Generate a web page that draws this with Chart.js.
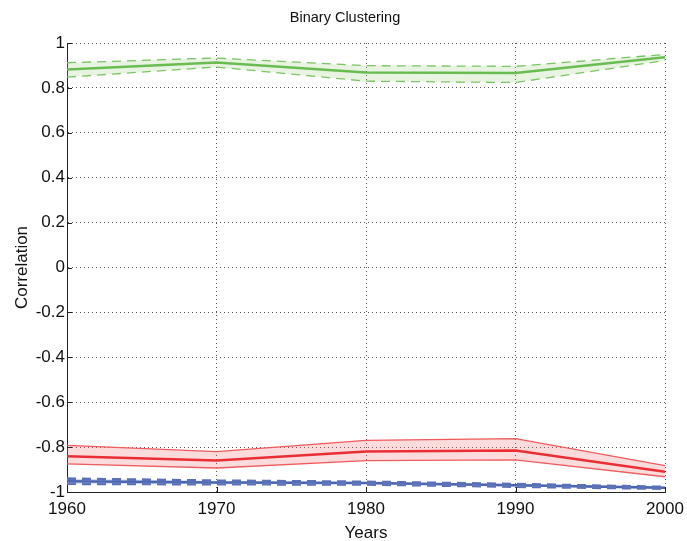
<!DOCTYPE html>
<html>
<head>
<meta charset="utf-8">
<script src="https://cdn.jsdelivr.net/npm/chart.js@4"></script>
<style>
  html, body { margin: 0; padding: 0; background: #fff; }
  #wrap { width: 687px; height: 541px; }
</style>
</head>
<body>
<div id="wrap"><canvas id="chart" width="687" height="541"></canvas></div>
<script>
// years on the x axis
const years = [1960, 1970, 1980, 1990, 2000];
const yTicks = [-1, -0.8, -0.6, -0.4, -0.2, 0, 0.2, 0.4, 0.6, 0.8, 1];
const chartTitle = 'Binary Clustering';

// green group: mean and band
const greenMean  = [0.882, 0.913, 0.869, 0.866, 0.937];
const greenUpper = [0.912, 0.933, 0.899, 0.896, 0.949];
const greenLower = [0.848, 0.893, 0.830, 0.824, 0.922];

// red group
const redMean  = [-0.841, -0.860, -0.820, -0.815, -0.910];
const redUpper = [-0.792, -0.820, -0.770, -0.762, -0.883];
const redLower = [-0.875, -0.893, -0.860, -0.857, -0.932];

// blue group
const blueMean  = [-0.952, -0.958, -0.960, -0.970, -0.981];
const blueUpper = [-0.941, -0.950, -0.955, -0.965, -0.978];
const blueLower = [-0.963, -0.965, -0.966, -0.976, -0.985];

const pts = arr => arr.map((v, i) => ({ x: years[i], y: v }));
const FONT = '"Liberation Sans", Arial, Helvetica, sans-serif';

// upper bound fills down to the lower bound (next dataset), mean on top
function band(upper, lower, mean, line, edge, fillColor, dashed, edgeWidth, meanWidth) {
    const dash = dashed ? [9, 6] : [];
    return [
        { data: pts(upper), borderColor: edge, borderWidth: edgeWidth, borderDash: dash,
          backgroundColor: fillColor, fill: '+1', pointRadius: 0, tension: 0 },
        { data: pts(lower), borderColor: edge, borderWidth: edgeWidth, borderDash: dash,
          fill: false, pointRadius: 0, tension: 0 },
        { data: pts(mean), borderColor: line, borderWidth: meanWidth,
          fill: false, pointRadius: 0, tension: 0 }
    ];
}

const datasets = [].concat(
    band(greenUpper, greenLower, greenMean, '#5cb848', '#79c564', 'rgba(150,205,120,0.22)', true, 1.3, 2.5),
    band(redUpper, redLower, redMean, '#e8191f', '#f05a5c', 'rgba(240,110,115,0.25)', false, 1.3, 2.5),
    band(blueUpper, blueLower, blueMean, '#3550a6', '#5a70b8', 'rgba(120,140,200,0.35)', true, 2.8, 2.5)
);

// title a little left of the plot centre, plus short inward tick marks
const framePlugin = {
    id: 'frameExtras',
    afterDraw(chart) {
        const { ctx, chartArea, scales } = chart;
        ctx.save();
        ctx.font = '14.5px ' + FONT;
        ctx.fillStyle = '#111';
        ctx.textAlign = 'center';
        ctx.textBaseline = 'middle';
        ctx.fillText(chartTitle, (chartArea.left + chartArea.right) / 2 - 21, chartArea.top - 25);

        ctx.strokeStyle = '#222';
        ctx.lineWidth = 1;
        ctx.beginPath();
        years.forEach(v => {
            const x = Math.round(scales.x.getPixelForValue(v)) + 0.5;
            ctx.moveTo(x, chartArea.bottom);
            ctx.lineTo(x, chartArea.bottom - 5);
        });
        yTicks.forEach(v => {
            const y = Math.round(scales.y.getPixelForValue(v)) + 0.5;
            ctx.moveTo(chartArea.left, y);
            ctx.lineTo(chartArea.left + 5, y);
        });
        ctx.stroke();
        ctx.restore();
    }
};

const gridStyle = { color: '#555', lineWidth: 1, drawTicks: false };

new Chart(document.getElementById('chart'), {
    type: 'line',
    data: { datasets },
    plugins: [framePlugin],
    options: {
        responsive: false,
        animation: false,
        layout: { padding: { top: 43, right: 22, left: 0, bottom: 0 } },
        plugins: {
            legend: { display: false },
            tooltip: { enabled: false },
            title: { display: false }
        },
        scales: {
            x: {
                type: 'linear',
                min: 1960,
                max: 2000,
                grid: gridStyle,
                border: { display: true, color: '#222', width: 1, dash: [1, 3] },
                ticks: {
                    stepSize: 10,
                    color: '#111',
                    padding: 7,
                    maxRotation: 0,
                    font: { family: FONT, size: 17 },
                    callback: v => String(v)
                },
                title: {
                    display: true,
                    text: 'Years',
                    color: '#111',
                    font: { family: FONT, size: 17 },
                    padding: { top: 0, bottom: -3 }
                },
                // fixed frame: labels may spill into the margins
                afterFit: s => { s.height = 49; s.paddingLeft = 0; s.paddingRight = 0; }
            },
            y: {
                type: 'linear',
                min: -1,
                max: 1,
                afterBuildTicks: s => { s.ticks = yTicks.map(v => ({ value: v })); },
                grid: gridStyle,
                border: { display: true, color: '#222', width: 1, dash: [1, 3] },
                ticks: {
                    color: '#111',
                    padding: 2,
                    font: { family: FONT, size: 17 },
                    callback: v => String(Number(v.toFixed(1)))
                },
                title: {
                    display: true,
                    text: 'Correlation',
                    color: '#111',
                    font: { family: FONT, size: 17 },
                    padding: { top: 12, bottom: 0 }
                },
                afterFit: s => { s.width = 67; s.paddingTop = 0; s.paddingBottom = 0; }
            }
        }
    }
});
</script>
</body>
</html>
